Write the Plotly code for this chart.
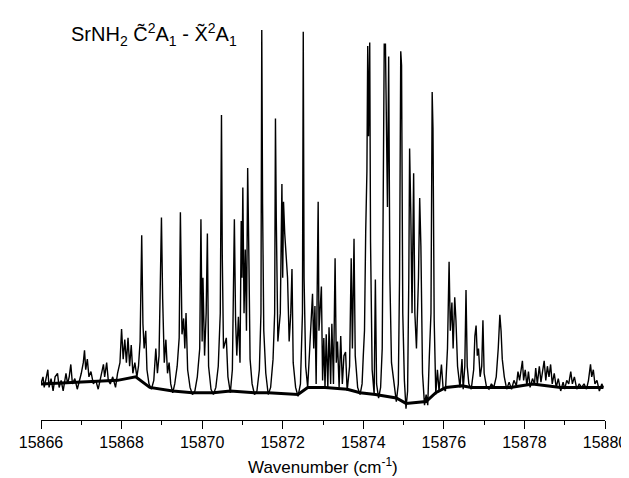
import plotly.graph_objects as go

# Spectrum vertices (wavenumber, normalized intensity)
wavenumber = [
    15866.00, 15866.05, 15866.08, 15866.12, 15866.17, 15866.20, 15866.25, 15866.30, 15866.35, 15866.41,
    15866.45, 15866.50, 15866.55, 15866.62, 15866.66, 15866.70, 15866.74, 15866.78, 15866.84, 15866.90,
    15866.96, 15867.00, 15867.05, 15867.08, 15867.11, 15867.15, 15867.19, 15867.24, 15867.30, 15867.36,
    15867.42, 15867.48, 15867.55, 15867.58, 15867.63, 15867.67, 15867.72, 15867.78, 15867.85, 15867.90,
    15867.96, 15868.00, 15868.04, 15868.08, 15868.12, 15868.16, 15868.20, 15868.24, 15868.28, 15868.33,
    15868.38, 15868.42, 15868.46, 15868.50, 15868.53, 15868.56, 15868.60, 15868.63, 15868.68, 15868.74,
    15868.80, 15868.85, 15868.89, 15868.93, 15868.99, 15869.02, 15869.06, 15869.10, 15869.14, 15869.18,
    15869.22, 15869.27, 15869.32, 15869.38, 15869.43, 15869.46, 15869.50, 15869.54, 15869.57, 15869.60,
    15869.64, 15869.70, 15869.76, 15869.82, 15869.88, 15869.94, 15869.97, 15870.00, 15870.02, 15870.06,
    15870.10, 15870.13, 15870.16, 15870.22, 15870.28, 15870.34, 15870.40, 15870.45, 15870.48, 15870.50,
    15870.53, 15870.60, 15870.64, 15870.70, 15870.75, 15870.80, 15870.83, 15870.86, 15870.90, 15870.94,
    15870.97, 15870.99, 15871.01, 15871.04, 15871.07, 15871.10, 15871.13, 15871.16, 15871.19, 15871.24,
    15871.30, 15871.36, 15871.42, 15871.46, 15871.48, 15871.50, 15871.53, 15871.58, 15871.64, 15871.70,
    15871.76, 15871.80, 15871.82, 15871.84, 15871.88, 15871.94, 15871.98, 15872.00, 15872.02, 15872.05,
    15872.08, 15872.12, 15872.16, 15872.20, 15872.23, 15872.26, 15872.32, 15872.38, 15872.44, 15872.49,
    15872.51, 15872.53, 15872.57, 15872.62, 15872.67, 15872.71, 15872.74, 15872.77, 15872.80, 15872.83,
    15872.88, 15872.90, 15872.93, 15872.96, 15872.99, 15873.02, 15873.05, 15873.08, 15873.12, 15873.15,
    15873.19, 15873.22, 15873.26, 15873.30, 15873.33, 15873.36, 15873.40, 15873.44, 15873.48, 15873.52,
    15873.56, 15873.60, 15873.66, 15873.70, 15873.73, 15873.77, 15873.80, 15873.86, 15873.92, 15873.97,
    15874.00, 15874.03, 15874.06, 15874.09, 15874.11, 15874.13, 15874.16, 15874.18, 15874.22, 15874.27,
    15874.30, 15874.33, 15874.38, 15874.43, 15874.47, 15874.50, 15874.52, 15874.55, 15874.57, 15874.60,
    15874.63, 15874.66, 15874.70, 15874.76, 15874.82, 15874.87, 15874.90, 15874.93, 15874.95, 15874.98,
    15875.02, 15875.06, 15875.10, 15875.13, 15875.15, 15875.18, 15875.21, 15875.25, 15875.28, 15875.32,
    15875.37, 15875.40, 15875.43, 15875.47, 15875.52, 15875.56, 15875.60, 15875.64, 15875.68, 15875.71,
    15875.73, 15875.76, 15875.80, 15875.84, 15875.88, 15875.94, 15875.98, 15876.04, 15876.09, 15876.13,
    15876.16, 15876.20, 15876.23, 15876.27, 15876.30, 15876.34, 15876.40, 15876.45, 15876.48, 15876.52,
    15876.55, 15876.58, 15876.62, 15876.68, 15876.74, 15876.77, 15876.80, 15876.83, 15876.86, 15876.90,
    15876.94, 15876.97, 15877.00, 15877.06, 15877.12, 15877.18, 15877.24, 15877.30, 15877.35, 15877.39,
    15877.42, 15877.45, 15877.50, 15877.56, 15877.62, 15877.68, 15877.74, 15877.80, 15877.84, 15877.88,
    15877.91, 15877.95, 15877.98, 15878.02, 15878.06, 15878.10, 15878.14, 15878.20, 15878.25, 15878.28,
    15878.32, 15878.37, 15878.41, 15878.45, 15878.49, 15878.53, 15878.57, 15878.61, 15878.65, 15878.69,
    15878.74, 15878.79, 15878.84, 15878.90, 15878.96, 15879.00, 15879.05, 15879.10, 15879.15, 15879.19,
    15879.24, 15879.30, 15879.36, 15879.42, 15879.48, 15879.54, 15879.59, 15879.64, 15879.67, 15879.71,
    15879.75, 15879.80, 15879.86, 15879.92, 15879.96,
]
intensity = [
    0.00, 0.02, -0.01, 0.01, 0.04, -0.01, 0.015, -0.02, 0.02, 0.03,
    -0.01, 0.01, -0.02, 0.03, 0.00, 0.02, 0.055, 0.00, 0.015, -0.015,
    0.01, 0.03, 0.06, 0.095, 0.04, 0.07, 0.02, 0.035, 0.00, 0.01,
    -0.015, 0.015, 0.055, 0.02, 0.06, 0.01, 0.00, 0.02, -0.01, 0.03,
    0.06, 0.155, 0.07, 0.125, 0.06, 0.13, 0.05, 0.11, 0.03, 0.06,
    0.02, 0.05, 0.12, 0.42, 0.17, 0.10, 0.15, 0.04, 0.00, -0.015,
    0.01, 0.10, 0.03, 0.08, 0.47, 0.24, 0.06, 0.125, 0.03, 0.06,
    0.00, -0.025, 0.00, 0.05, 0.13, 0.485, 0.14, 0.185, 0.10, 0.20,
    0.04, -0.01, -0.03, -0.02, 0.02, 0.10, 0.465, 0.12, 0.30, 0.08,
    0.20, 0.425, 0.05, -0.015, -0.03, -0.01, 0.05, 0.20, 0.76, 0.36,
    0.10, 0.13, 0.02, -0.025, 0.04, 0.465, 0.18, 0.08, 0.19, 0.06,
    0.46, 0.30, 0.555, 0.20, 0.38, 0.15, 0.61, 0.36, 0.07, 0.00,
    -0.03, -0.02, 0.04, 0.20, 1.00, 0.51, 0.15, 0.03, -0.03, -0.01,
    0.07, 0.20, 0.75, 0.47, 0.12, 0.20, 0.565, 0.30, 0.515, 0.425,
    0.38, 0.30, 0.12, 0.20, 0.325, 0.06, -0.01, -0.035, 0.00, 0.20,
    0.995, 0.30, 0.05, -0.01, 0.10, 0.195, 0.255, 0.10, 0.22, 0.00,
    0.515, 0.15, 0.24, 0.275, 0.01, 0.13, -0.01, 0.14, -0.01, 0.16,
    0.00, 0.17, 0.00, 0.355, 0.06, 0.12, -0.01, 0.135, 0.00, 0.08,
    0.09, -0.02, 0.05, 0.355, 0.10, 0.41, 0.08, -0.01, -0.03, 0.00,
    0.08, 0.15, 0.43, 0.60, 0.955, 0.70, 0.965, 0.40, 0.04, -0.03,
    0.295, 0.00, -0.04, -0.01, 0.10, 0.70, 0.96, 0.96, 0.73, 0.50,
    0.925, 0.30, 0.06, 0.00, -0.05, 0.00, 0.30, 0.94, 0.90, 0.20,
    0.01, -0.07, -0.02, 0.30, 0.665, 0.48, 0.20, 0.595, 0.20, 0.10,
    0.30, 0.525, 0.39, 0.03, -0.06, -0.03, -0.06, 0.08, 0.20, 0.825,
    0.72, 0.18, -0.03, 0.04, -0.02, 0.055, -0.01, -0.02, 0.10, 0.345,
    0.15, 0.23, 0.10, 0.245, 0.18, 0.05, -0.01, 0.07, -0.015, 0.05,
    0.265, 0.05, 0.00, -0.015, 0.04, 0.135, 0.165, 0.08, 0.10, 0.02,
    0.05, 0.18, 0.03, -0.01, -0.015, 0.00, -0.01, 0.02, 0.10, 0.195,
    0.15, 0.07, 0.02, -0.015, 0.005, -0.015, 0.01, -0.005, 0.035, 0.01,
    0.03, 0.065, 0.01, 0.04, -0.005, 0.035, -0.01, 0.015, 0.00, 0.045,
    0.00, 0.05, 0.005, 0.03, 0.065, 0.01, 0.05, 0.02, 0.055, 0.00,
    0.03, -0.01, 0.015, -0.02, 0.005, -0.015, 0.01, 0.00, 0.035, 0.00,
    0.02, -0.015, 0.00, -0.01, 0.00, -0.015, 0.01, 0.055, 0.02, 0.04,
    0.00, 0.01, -0.02, 0.00, -0.01,
]

# Centre of the thick noise floor
floor_wavenumber = [15866.0, 15867.0, 15867.9, 15868.35, 15868.7, 15869.27, 15869.76, 15870.28, 15870.70,
                    15871.30, 15871.64, 15872.38, 15872.62, 15873.05, 15873.60, 15873.92, 15874.30, 15874.82,
                    15875.06, 15875.56, 15875.80, 15876.05, 15876.45, 15876.68, 15877.15, 15877.65, 15878.2,
                    15878.9, 15879.5, 15879.96]
floor_intensity = [0.0, 0.005, 0.01, 0.02, -0.01, -0.02, -0.025, -0.025, -0.02,
                   -0.025, -0.025, -0.03, -0.01, -0.01, -0.015, -0.025, -0.03, -0.04,
                   -0.055, -0.05, -0.025, -0.01, -0.005, -0.01, -0.01, -0.01, 0.0,
                   -0.01, -0.01, -0.01]

x_ticks = [15866, 15868, 15870, 15872, 15874, 15876, 15878, 15880]

FONT = "Arial, Liberation Sans, sans-serif"

fig = go.Figure()
fig.add_trace(go.Scatter(x=floor_wavenumber, y=floor_intensity, mode="lines",
                         line=dict(color="black", width=3), hoverinfo="skip", showlegend=False))
fig.add_trace(go.Scatter(x=wavenumber, y=intensity, mode="lines",
                         line=dict(color="black", width=1.4), showlegend=False))

fig.update_layout(
    width=629, height=478,
    margin=dict(l=33, r=23, t=10, b=66),
    paper_bgcolor="white", plot_bgcolor="white",
    font=dict(family=FONT, color="black"),
    xaxis=dict(range=[15866, 15880], tickvals=x_ticks, ticktext=[str(v) for v in x_ticks],
               ticks="outside", ticklen=8, tickwidth=1, tickcolor="black",
               minor=dict(dtick=1, ticks="outside", ticklen=4, tickcolor="black", tickwidth=1),
               showline=True, linecolor="black", linewidth=1,
               showgrid=False, zeroline=False, tickfont=dict(size=16, family=FONT)),
    yaxis=dict(visible=False, range=[-0.102, 1.034]),
    annotations=[
        dict(text="Wavenumber (cm<sup>-1</sup>)", xref="paper", yref="paper", x=0.50, y=-0.146,
             xanchor="center", yanchor="bottom", showarrow=False, font=dict(size=17, family=FONT)),
        dict(text="SrNH<sub>2</sub> C\u0303<sup>2</sup>A<sub>1</sub> - X\u0303<sup>2</sup>A<sub>1</sub>",
             xref="paper", yref="paper", x=0.05, y=0.958, xanchor="left", yanchor="middle",
             showarrow=False, font=dict(size=20, family=FONT)),
    ],
)

fig.write_html("out.html")
